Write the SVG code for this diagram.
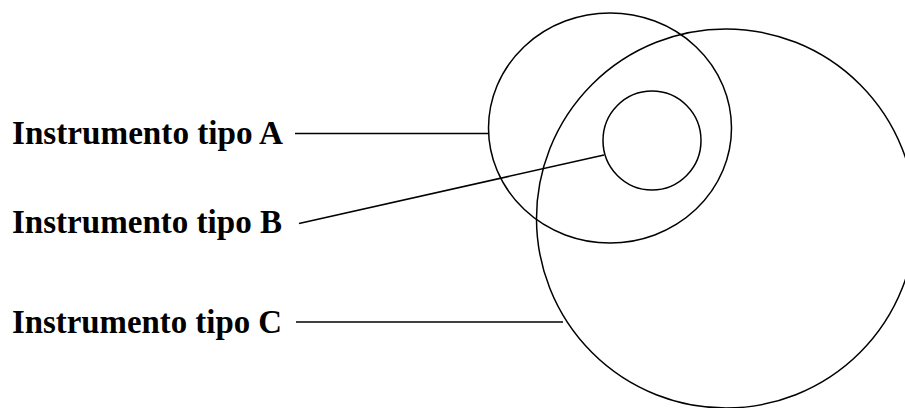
<svg xmlns="http://www.w3.org/2000/svg" width="905" height="408" viewBox="0 0 905 408">
<style>
.lbl{font-family:"Liberation Serif","Times New Roman",serif;font-weight:bold;font-size:34.5px;fill:#000}
.shape{fill:none;stroke:#000;stroke-width:1.5}
</style>
<rect width="905" height="408" fill="#fff"/>
<g id="circleA"><ellipse class="shape" cx="610" cy="128" rx="121.5" ry="115"/></g>
<g id="circleB"><ellipse class="shape" cx="652" cy="140.5" rx="49" ry="49.5"/></g>
<g id="circleC"><ellipse class="shape" cx="726" cy="218.5" rx="189.5" ry="189.5"/></g>
<g id="labelA"><text class="lbl" x="12" y="144" textLength="271" lengthAdjust="spacingAndGlyphs">Instrumento tipo A</text></g>
<g id="labelB"><text class="lbl" x="12" y="233" textLength="270" lengthAdjust="spacingAndGlyphs">Instrumento tipo B</text></g>
<g id="labelC"><text class="lbl" x="12" y="333" textLength="270" lengthAdjust="spacingAndGlyphs">Instrumento tipo C</text></g>
<g id="connectors">
<line class="shape" x1="295" y1="133.5" x2="489" y2="133.5"/>
<line class="shape" x1="299" y1="223.5" x2="604" y2="155"/>
<line class="shape" x1="296" y1="322" x2="563" y2="322"/>
</g>
</svg>
